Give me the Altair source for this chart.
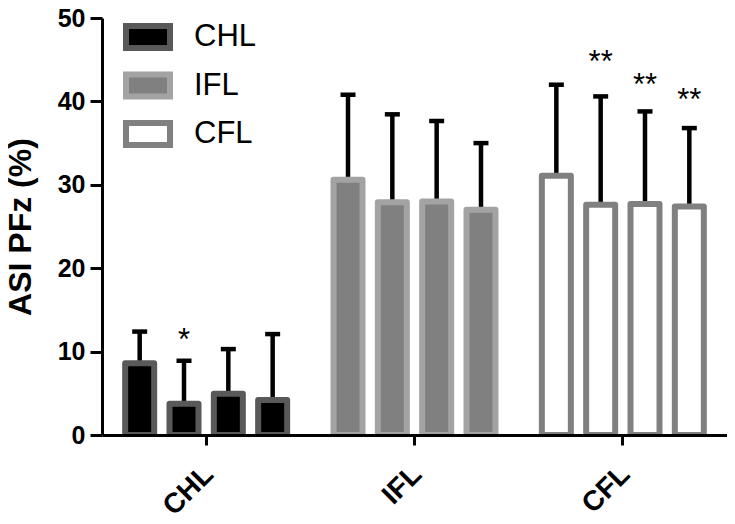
import altair as alt
import pandas as pd

groups = ["CHL", "IFL", "CFL"]
times = ["1", "2", "3", "4"]
chl_mean = [8.6, 3.75, 4.95, 4.2]
ifl_mean = [30.6, 27.9, 28.0, 27.0]
cfl_mean = [31.1, 27.6, 27.7, 27.4]
chl_upper = [12.4, 8.9, 10.3, 12.1]
ifl_upper = [40.8, 38.45, 37.65, 35.0]
cfl_upper = [42.0, 40.6, 38.8, 36.8]
chl_star = ["", "*", "", ""]
ifl_star = ["", "", "", ""]
cfl_star = ["", "**", "**", "**"]
chl_star_y = [0, 12.2, 0, 0]
ifl_star_y = [0, 0, 0, 0]
cfl_star_y = [0, 45.6, 42.8, 41.0]

fills = ["#000000", "#808080", "#ffffff"]
strokes = ["#595959", "#a3a3a3", "#808080"]

rows = []
for g, m, u, s, sy in [
    ("CHL", chl_mean, chl_upper, chl_star, chl_star_y),
    ("IFL", ifl_mean, ifl_upper, ifl_star, ifl_star_y),
    ("CFL", cfl_mean, cfl_upper, cfl_star, cfl_star_y),
]:
    for i, t in enumerate(times):
        rows.append({"group": g, "time": t, "mean": m[i], "upper": u[i],
                     "star": s[i], "star_y": sy[i]})
df = pd.DataFrame(rows)

FONT = "Liberation Sans"

x_enc = alt.X("group:N", sort=groups,
              scale=alt.Scale(domain=groups, paddingInner=0, paddingOuter=0),
              axis=alt.Axis(title=None, labelAngle=-45, labelFont=FONT,
                            labelFontSize=28, labelFontWeight="bold",
                            labelAlign="right", labelBaseline="top",
                            labelPadding=15, labelOffset=-7, labelColor="black",
                            labelBound=False, labelOverlap=False,
                            domainColor="black", domainWidth=3,
                            tickColor="black", tickWidth=3, tickSize=10,
                            zindex=1))
xo_enc = alt.XOffset("time:N", sort=times,
                     scale=alt.Scale(paddingInner=0, paddingOuter=0.35))
y_scale = alt.Scale(domain=[0, 50], nice=False)

legend = alt.Legend(title=None, orient="none", legendX=25, legendY=-2,
                    symbolType="M-1.25,-0.625H1.25V0.625H-1.25Z",
                    symbolSize=1239, symbolStrokeWidth=6,
                    labelFont=FONT, labelFontSize=31, labelColor="black",
                    labelOffset=25, rowPadding=2.5, padding=0)

base = alt.Chart(df)

err_rule = base.mark_rule(color="black", strokeWidth=4.5).encode(
    x=x_enc, xOffset=xo_enc,
    y=alt.Y("mean:Q", scale=y_scale,
            axis=alt.Axis(title="ASI PFz (%)", values=[0, 10, 20, 30, 40, 50],
                          titleFont=FONT, titleFontSize=32, titleFontWeight="bold",
                          titleColor="black", titlePadding=20,
                          labelFont=FONT, labelFontSize=25, labelFontWeight="bold",
                          labelColor="black", labelPadding=5,
                          domainColor="black", domainWidth=3,
                          tickColor="black", tickWidth=3, tickSize=12,
                          grid=False, zindex=1)),
    y2="upper:Q",
)

bars = base.mark_bar(width=29, strokeWidth=6, clip=True, strokeJoin="round").encode(
    x=x_enc, xOffset=xo_enc,
    y=alt.Y("mean:Q", scale=y_scale),
    fill=alt.Fill("group:N", sort=groups,
                  scale=alt.Scale(domain=groups, range=fills), legend=legend),
    stroke=alt.Stroke("group:N", sort=groups,
                      scale=alt.Scale(domain=groups, range=strokes), legend=legend),
)

caps = base.mark_tick(color="black", size=15, thickness=4.5, opacity=1).encode(
    x=x_enc, xOffset=xo_enc,
    y=alt.Y("upper:Q", scale=y_scale),
)

stars = base.mark_text(font=FONT, fontSize=31, color="black", dy=17,
                       baseline="alphabetic", align="center").encode(
    x=x_enc, xOffset=xo_enc,
    y=alt.Y("star_y:Q", scale=y_scale),
    text="star:N",
)

chart = alt.layer(err_rule, bars, caps, stars).properties(
    width=625, height=417,
    autosize=alt.AutoSizeParams(type="none"),
    padding={"left": 94, "top": 10, "right": 0, "bottom": 86},
).configure_view(stroke=None).configure_axis(ticks=True)

chart.save("out.html", embed_options={"renderer": "svg", "actions": False})
